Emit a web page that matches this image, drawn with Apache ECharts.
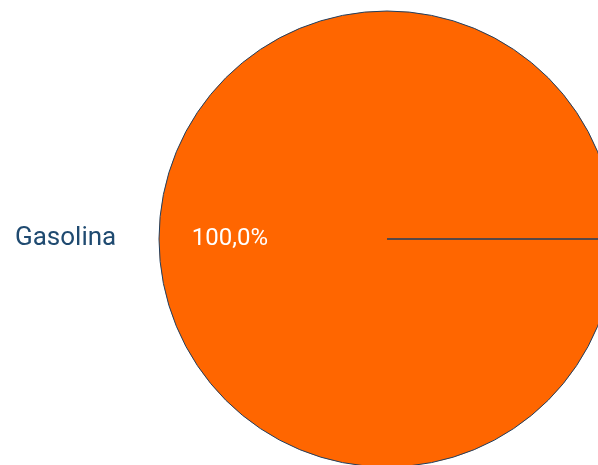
<!DOCTYPE html>
<html>
<head>
<meta charset="utf-8">
<script src="https://cdn.jsdelivr.net/npm/echarts@6/dist/echarts.min.js"></script>
<style>
  html, body { margin: 0; padding: 0; background: #fff; }
  #chart { width: 598px; height: 465px; }
</style>
</head>
<body>
<div id="chart"></div>
<script>
var categories = ['Gasolina'];
var values = [100];
var colors = ['#ff6600'];

var chart = echarts.init(document.getElementById('chart'), null, { renderer: 'canvas' });

// fill of the pie, plus a zero slice so the start edge is drawn
var pieData = categories.map(function (name, i) {
  return { name: name, value: values[i], itemStyle: { color: colors[i] } };
});
pieData.push({ name: '', value: 0, label: { show: false } });

var option = {
  animation: false,
  legend: {
    data: categories,
    orient: 'vertical',
    left: 4,
    top: 220,
    itemWidth: 0,
    itemHeight: 0,
    textStyle: { fontFamily: 'Roboto', fontSize: 26, color: '#1f4a70' }
  },
  series: [{
    name: 'fill',
    type: 'pie',
    center: [387, 239],
    radius: [0, 228],
    startAngle: 0,
    label: { show: false },
    labelLine: { show: false },
    itemStyle: { borderColor: '#1f3f60', borderWidth: 1 },
    emphasis: { disabled: true },
    silent: true,
    data: pieData
  }, {
    name: 'labels',
    type: 'pie',
    center: [387, 239],
    radius: [80, 228],
    startAngle: 0,
    silent: true,
    emphasis: { disabled: true },
    itemStyle: { color: 'transparent', borderWidth: 0 },
    labelLine: { show: false },
    label: {
      show: true,
      position: 'inside',
      fontFamily: 'Roboto',
      fontSize: 24,
      color: '#ffffff',
      formatter: function (p) {
        return p.percent.toFixed(1).replace('.', ',') + '%';
      }
    },
    data: categories.map(function (name, i) {
      return { name: name, value: values[i] };
    })
  }]
};
chart.setOption(option);
</script>
</body>
</html>
